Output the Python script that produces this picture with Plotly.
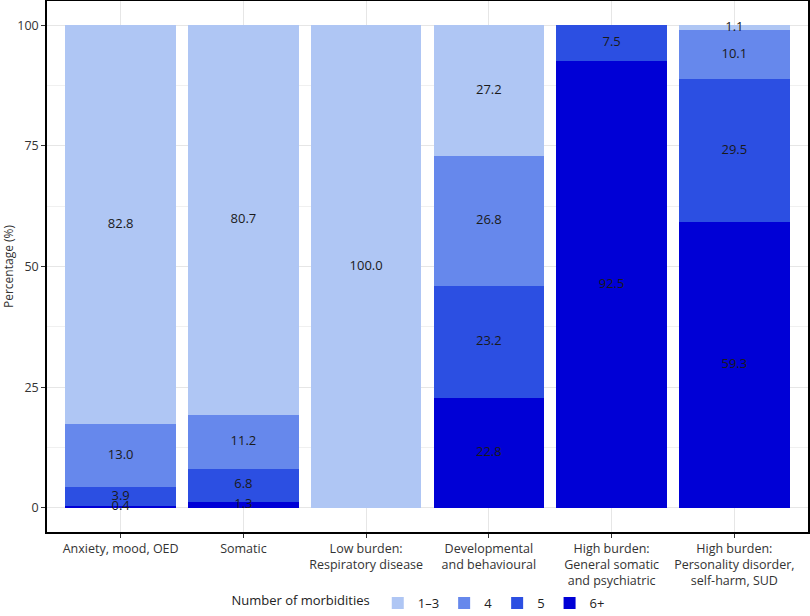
import plotly.graph_objects as go

categories = [
    "Anxiety, mood, OED",
    "Somatic",
    "Low burden:<br>Respiratory disease",
    "Developmental<br>and behavioural",
    "High burden:<br>General somatic<br>and psychiatric",
    "High burden:<br>Personality disorder,<br>self-harm, SUD",
]
groups = ["1–3", "4", "5", "6+"]
v_1_3 = [82.8, 80.7, 100.0, 27.2, 0.0, 1.1]
v_4 = [13.0, 11.2, 0.0, 26.8, 0.0, 10.1]
v_5 = [3.9, 6.8, 0.0, 23.2, 7.5, 29.5]
v_6p = [0.4, 1.3, 0.0, 22.8, 92.5, 59.3]
colors = {"1–3": "#AFC6F4", "4": "#6688EC", "5": "#2C4FE2", "6+": "#0000D6"}

series = {"1–3": v_1_3, "4": v_4, "5": v_5, "6+": v_6p}
stack_order = ["6+", "5", "4", "1–3"]

FONT = "Open Sans"
fig = go.Figure()
xs = list(range(len(categories)))
base = [0.0] * len(categories)
label_x, label_y, label_t = [], [], []
for g in stack_order:
    vals = series[g]
    fig.add_trace(go.Bar(
        x=xs, y=vals, name=g, marker=dict(color=colors[g], line=dict(width=0)),
        width=0.9, hoverinfo="skip", legendrank={"1–3": 1, "4": 2, "5": 3, "6+": 4}[g],
    ))
    for i, v in enumerate(vals):
        if v > 0:
            label_x.append(i)
            label_y.append(base[i] + v / 2)
            label_t.append(f"{v:.1f}")
        base[i] += v

fig.add_trace(go.Scatter(
    x=label_x, y=label_y, text=label_t, mode="text",
    textfont=dict(family=FONT, size=13, color="#1a1a1a"),
    showlegend=False, hoverinfo="skip",
))

fig.update_layout(
    barmode="stack",
    width=810, height=616,
    margin=dict(l=47, r=2, t=1, b=84, autoexpand=False),
    plot_bgcolor="white", paper_bgcolor="white",
    font=dict(family=FONT, size=12, color="#333333"),
    legend=dict(
        orientation="h", x=0.49, xanchor="center",
        yref="container", y=0.021, yanchor="middle",
        title=dict(text="Number of morbidities", font=dict(size=13, color="#222222"), side="left"),
        font=dict(size=13, color="#222222"),
        itemsizing="constant", traceorder="normal", itemwidth=30,
    ),
)
fig.update_xaxes(
    tickmode="array", tickvals=xs, ticktext=categories,
    range=[-0.6, 5.6],
    showgrid=True, gridcolor="#E6E6E6", gridwidth=1,
    showline=True, linecolor="black", linewidth=1.5, mirror=True,
    ticks="outside", ticklen=4, tickcolor="#333333",
    tickfont=dict(size=12.5, color="#333333"),
    zeroline=False, automargin=False,
)
fig.update_yaxes(
    title=dict(text="Percentage (%)", font=dict(size=12, color="#333333"), standoff=8),
    range=[-5, 105],
    tickvals=[0, 25, 50, 75, 100],
    showgrid=True, gridcolor="#E6E6E6", gridwidth=1,
    minor=dict(tickvals=[12.5, 37.5, 62.5, 87.5], showgrid=True, gridcolor="#F0F0F0", ticks=""),
    showline=True, linecolor="black", linewidth=1.5, mirror=True,
    ticks="outside", ticklen=4, tickcolor="#333333",
    tickfont=dict(size=12.5, color="#333333"),
    zeroline=False, automargin=False,
)
fig.write_html("out.html")
